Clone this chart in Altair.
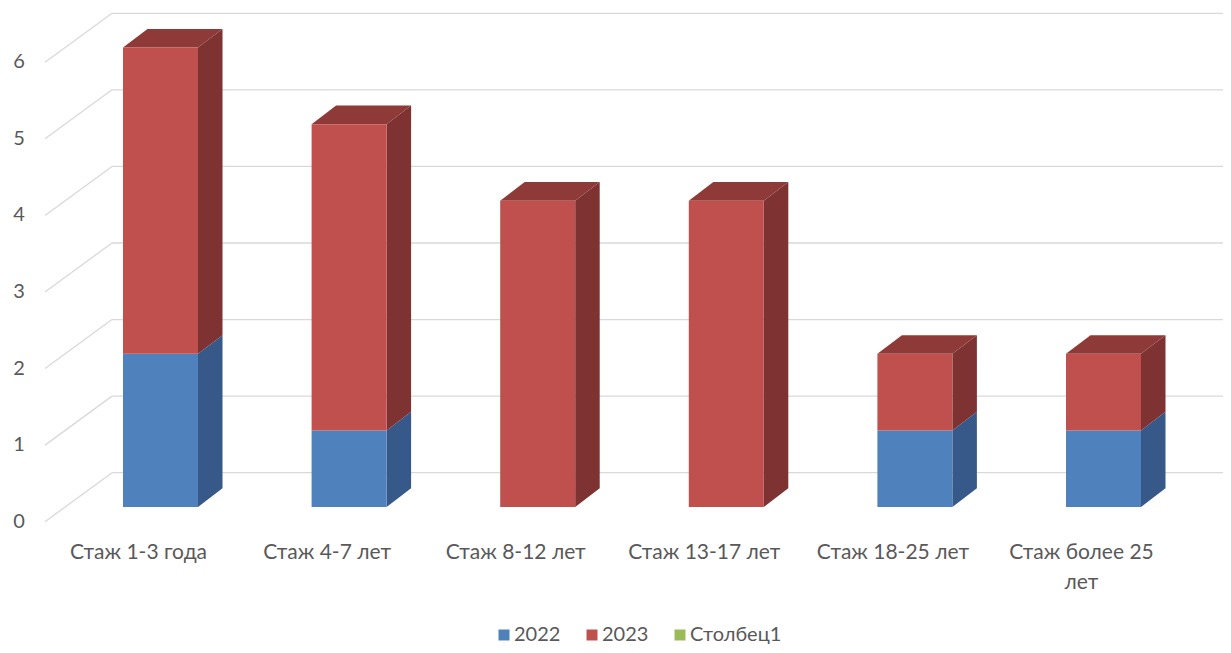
import altair as alt
import pandas as pd

# ---------------- data ----------------
categories = ["Стаж 1-3 года", "Стаж 4-7 лет", "Стаж 8-12 лет",
              "Стаж 13-17 лет", "Стаж 18-25 лет", "Стаж более 25 лет"]
tick_labels = ["Стаж 1-3 года", "Стаж 4-7 лет", "Стаж 8-12 лет",
               "Стаж 13-17 лет", "Стаж 18-25 лет", "Стаж более 25\nлет"]
s2022 = [2, 1, 0, 0, 1, 1]
s2023 = [4, 4, 4, 4, 1, 1]
s_col1 = [0, 0, 0, 0, 0, 0]
y_ticks = [0, 1, 2, 3, 4, 5, 6]
series_names = ["2022", "2023", "Столбец1"]
series_colors = ["#4F81BD", "#C0504D", "#9BBB59"]
side_colors = {"2022": "#37598A", "2023": "#7E3231", "Столбец1": "#71893F"}
top_colors = {"2022": "#4470A5", "2023": "#8E3A38", "Столбец1": "#7F9B48"}

FONT = "Lato"
TXT = "#595959"
GRID = "#D9D9D9"

# ---------------- layout (pixels -> data units) ----------------
W, H = 1215, 637
PX_CAT = 188.6          # px per category step
PX_UNIT = 76.57         # px per value unit
X0 = 152.5              # px of first category centre
Y0 = 499.0              # px of value 0 at the bar front
x_dom = [-X0 / PX_CAT, (W - X0) / PX_CAT]
y_dom = [(Y0 - H) / PX_UNIT, Y0 / PX_UNIT]
HALF = 37.5 / PX_CAT    # half bar width
DDX = 24.5 / PX_CAT     # bar depth (x)
DDY = 18.7 / PX_UNIT    # bar depth (y)
BACK_DY = 34.3 / PX_UNIT
BACK_X = (104 - X0) / PX_CAT
FLOOR_X = (37 - X0) / PX_CAT
FLOOR_DY = -14.7 / PX_UNIT
LABEL_X = (11 - X0) / PX_CAT
XLAB_Y = -(35.0) / PX_UNIT
XLAB_DX = -22.0 / PX_CAT

xs = alt.Scale(domain=x_dom, nice=False, zero=False)
ys = alt.Scale(domain=y_dom, nice=False, zero=False)

# ---------------- build tables ----------------
front_rows, side_rows, top_rows = [], [], []
seg = 0
for i in range(len(categories)):
    base = 0
    vals = [("2022", s2022[i]), ("2023", s2023[i]), ("Столбец1", s_col1[i])]
    nonzero = [(s, v) for s, v in vals if v > 0]
    for k, (s, v) in enumerate(nonzero):
        lo, hi = base, base + v
        front_rows.append(dict(cat=categories[i], series=s, x=i - HALF, x2=i + HALF, y=lo, y2=hi))
        side_rows.append(dict(seg=seg, fill=side_colors[s], x=i + HALF, y=lo, y2=hi))
        side_rows.append(dict(seg=seg, fill=side_colors[s], x=i + HALF + DDX, y=lo + DDY, y2=hi + DDY))
        if k == len(nonzero) - 1:
            top_rows.append(dict(seg=seg, fill=top_colors[s], y=hi, x=i - HALF, x2=i + HALF))
            top_rows.append(dict(seg=seg, fill=top_colors[s], y=hi + DDY, x=i - HALF + DDX, x2=i + HALF + DDX))
        seg += 1
        base = hi

front_df = pd.DataFrame(front_rows)
side_df = pd.DataFrame(side_rows)
top_df = pd.DataFrame(top_rows)

grid_df = pd.DataFrame({"v": y_ticks})
grid_df["yb"] = grid_df["v"] + BACK_DY
grid_df["yf"] = grid_df["v"] + FLOOR_DY
grid_df["xb"] = BACK_X
grid_df["xf"] = FLOOR_X
grid_df["xe"] = x_dom[1]
grid_df["xl"] = LABEL_X
grid_df["lab"] = grid_df["v"].astype(str)

xlab_df = pd.DataFrame({"x": [i + XLAB_DX for i in range(len(categories))], "lab": tick_labels})
xlab_df["y"] = XLAB_Y

# ---------------- layers ----------------
back_grid = alt.Chart(grid_df).mark_rule(color=GRID, strokeWidth=1.3).encode(
    x=alt.X("xb:Q", scale=xs, axis=None), x2="xe:Q",
    y=alt.Y("yb:Q", scale=ys, axis=None))
diag_grid = alt.Chart(grid_df).mark_rule(color=GRID, strokeWidth=1.3).encode(
    x=alt.X("xf:Q", scale=xs, axis=None), x2="xb:Q",
    y=alt.Y("yf:Q", scale=ys, axis=None), y2="yb:Q")

side = alt.Chart(side_df).mark_area(opacity=1, line=False).encode(
    x=alt.X("x:Q", scale=xs, axis=None),
    y=alt.Y("y:Q", scale=ys, axis=None, stack=None), y2="y2:Q",
    detail="seg:N",
    fill=alt.Fill("fill:N", scale=None))

top = alt.Chart(top_df).mark_area(orient="horizontal", opacity=1, line=False).encode(
    y=alt.Y("y:Q", scale=ys, axis=None),
    x=alt.X("x:Q", scale=xs, axis=None, stack=None), x2="x2:Q",
    detail="seg:N",
    fill=alt.Fill("fill:N", scale=None))

front = alt.Chart(front_df).mark_rect(opacity=1).encode(
    x=alt.X("x:Q", scale=xs, axis=None), x2="x2:Q",
    y=alt.Y("y:Q", scale=ys, axis=None), y2="y2:Q",
    color=alt.Color("series:N",
                    scale=alt.Scale(domain=series_names, range=series_colors),
                    legend=alt.Legend(orient="none", legendX=486, legendY=617,
                                      direction="horizontal", title=None,
                                      symbolType="square", symbolSize=121,
                                      symbolStrokeWidth=0, symbolOpacity=1,
                                      labelFont=FONT, labelFontSize=20,
                                      labelColor=TXT, columnPadding=21,
                                      labelOffset=0)))

ylabels = alt.Chart(grid_df).mark_text(font=FONT, fontSize=20, color=TXT,
                                       align="center", baseline="middle").encode(
    x=alt.X("xl:Q", scale=xs, axis=None),
    y=alt.Y("yf:Q", scale=ys, axis=None),
    text="lab:N")

xlabels = alt.Chart(xlab_df).mark_text(font=FONT, fontSize=21, color=TXT,
                                       align="center", baseline="top",
                                       lineBreak="\n", lineHeight=30).encode(
    x=alt.X("x:Q", scale=xs, axis=None),
    y=alt.Y("y:Q", scale=ys, axis=None),
    text="lab:N")

chart = alt.layer(back_grid, diag_grid, side, top, front, ylabels, xlabels).resolve_scale(
    color="independent", fill="independent"
).properties(
    width=W, height=H, padding=0, autosize=alt.AutoSizeParams(type="none"),
    background="white"
).configure_view(stroke=None)

chart.save("out.html", embed_options={"renderer": "svg", "actions": False})
